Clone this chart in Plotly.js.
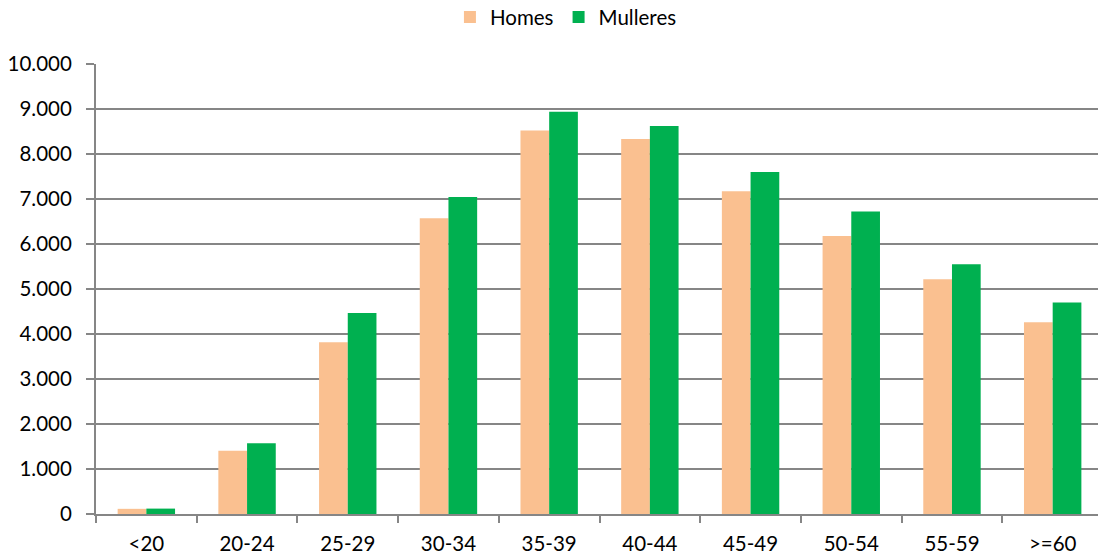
<!DOCTYPE html>
<html>
<head>
<meta charset="utf-8">
<script src="https://cdn.plot.ly/plotly-3.0.1.min.js"></script>
<style>html,body{margin:0;padding:0;background:#fff;}#chart{width:1098px;height:557px;}</style>
</head>
<body>
<div id="chart"></div>
<script>
var categories = ["<20","20-24","25-29","30-34","35-39","40-44","45-49","50-54","55-59",">=60"];
var homes = [115, 1405, 3815, 6570, 8525, 8335, 7170, 6180, 5215, 4260];
var mulleres = [120, 1570, 4465, 7045, 8940, 8620, 7600, 6725, 5550, 4700];
var yTicks = [0,1000,2000,3000,4000,5000,6000,7000,8000,9000,10000];
var yTickText = ["0","1.000","2.000","3.000","4.000","5.000","6.000","7.000","8.000","9.000","10.000"];

var fontFam = "Lato, 'Open Sans', sans-serif";
var data = [
  {type:'bar', name:'Homes', x:categories, y:homes, marker:{color:'#FAC090', line:{width:0}}},
  {type:'bar', name:'Mulleres', x:categories, y:mulleres, marker:{color:'#00B050', line:{width:0}}}
];
var layout = {
  width:1098, height:557,
  margin:{l:96, r:0, t:64, b:43, pad:0, autoexpand:false},
  paper_bgcolor:'#fff', plot_bgcolor:'#fff',
  barmode:'group', bargap:0.43, bargroupgap:0,
  font:{family:fontFam, size:20.5, color:'#000'},
  showlegend:true,
  legend:{orientation:'h', x:0.469, xanchor:'center', y:1.104, yref:'paper', yanchor:'middle', font:{size:20.5}, traceorder:'normal'},
  xaxis:{type:'category', range:[-0.5, 9.45], showgrid:false, showline:true, linecolor:'#868686', linewidth:2,
         ticks:'outside', tickson:'boundaries', ticklen:7, tickwidth:2, tickcolor:'#868686',
         ticklabelstandoff:10, fixedrange:true, automargin:false},
  yaxis:{range:[0,10000], tickvals:yTicks, ticktext:yTickText, showgrid:true, gridcolor:'#868686', gridwidth:2,
         showline:true, linecolor:'#868686', linewidth:2, ticks:'outside', ticklen:8, tickwidth:2, tickcolor:'#868686',
         zeroline:false, ticklabelstandoff:10, fixedrange:true, automargin:false}
};
Plotly.newPlot('chart', data, layout, {displayModeBar:false, staticPlot:true});
</script>
</body>
</html>
